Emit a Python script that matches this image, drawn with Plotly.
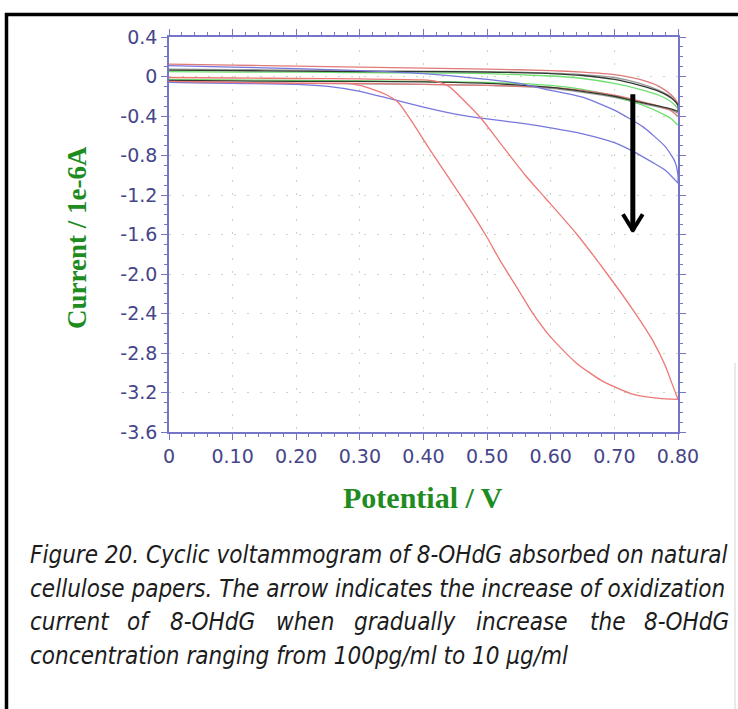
import plotly.graph_objects as go

# ---------------- data ----------------
# background loops (low concentrations) – common potential grid, both branches listed from 0 to 0.8 V
BG_X = [0, 0.1, 0.2, 0.3, 0.4, 0.5, 0.6, 0.65, 0.7, 0.74, 0.77, 0.79, 0.8]

red_bg_fwd = [-0.05, -0.06, -0.07, -0.07, -0.08, -0.09, -0.11, -0.14, -0.19, -0.25, -0.30, -0.35, -0.40]
red_bg_rev = [0.125, 0.115, 0.105, 0.095, 0.085, 0.075, 0.06, 0.045, 0.02, -0.03, -0.10, -0.19, -0.28]

black_fwd = [-0.04, -0.045, -0.05, -0.05, -0.055, -0.07, -0.11, -0.15, -0.20, -0.26, -0.30, -0.33, -0.35]
black_rev = [0.065, 0.06, 0.055, 0.05, 0.05, 0.045, 0.03, 0.01, -0.03, -0.09, -0.15, -0.22, -0.29]

green_fwd = [-0.03, -0.035, -0.04, -0.045, -0.05, -0.06, -0.09, -0.13, -0.20, -0.28, -0.36, -0.43, -0.49]
green_rev = [0.05, 0.045, 0.045, 0.04, 0.035, 0.03, 0.005, -0.02, -0.07, -0.13, -0.19, -0.26, -0.33]

grey_fwd = [-0.06, -0.065, -0.07, -0.075, -0.08, -0.09, -0.12, -0.16, -0.21, -0.27, -0.31, -0.34, -0.37]
grey_rev = [0.075, 0.07, 0.065, 0.06, 0.055, 0.05, 0.035, 0.02, -0.01, -0.07, -0.14, -0.21, -0.30]

# blue loop (intermediate concentration)
blue_fwd_x = [0, 0.1, 0.2, 0.25, 0.3, 0.35, 0.4, 0.45, 0.5, 0.55, 0.6, 0.65, 0.7, 0.73, 0.76, 0.78, 0.8]
blue_fwd_y = [-0.06, -0.07, -0.08, -0.10, -0.15, -0.23, -0.31, -0.38, -0.43, -0.47, -0.52, -0.58, -0.67, -0.76, -0.87, -0.95, -1.08]
blue_rev_x = [0.8, 0.8, 0.795, 0.78, 0.76, 0.745, 0.7, 0.65, 0.6, 0.55, 0.5, 0.4, 0.3, 0.2, 0.1, 0]
blue_rev_y = [-1.08, -1.0, -0.86, -0.71, -0.59, -0.51, -0.34, -0.21, -0.14, -0.07, -0.03, 0.03, 0.06, 0.08, 0.095, 0.11]

# red loop (highest concentration)
red_fwd_x = [0, 0.1, 0.2, 0.25, 0.28, 0.30, 0.32, 0.34, 0.36, 0.38, 0.41, 0.44, 0.47, 0.50, 0.52, 0.55, 0.57, 0.60, 0.64, 0.68, 0.73, 0.77, 0.80]
red_fwd_y = [-0.05, -0.06, -0.07, -0.07, -0.07, -0.09, -0.13, -0.18, -0.26, -0.44, -0.74, -1.03, -1.32, -1.63, -1.86, -2.17, -2.38, -2.64, -2.90, -3.08, -3.22, -3.26, -3.27]
red_rev_x = [0.80, 0.79, 0.78, 0.76, 0.73, 0.69, 0.64, 0.59, 0.56, 0.52, 0.49, 0.46, 0.44, 0.42, 0.40, 0.3, 0.2, 0.1, 0]
red_rev_y = [-3.27, -3.10, -2.93, -2.67, -2.37, -2.01, -1.59, -1.22, -1.00, -0.67, -0.42, -0.22, -0.10, -0.05, -0.035, -0.025, -0.02, -0.015, -0.01]

X_TICKS = [0, 0.1, 0.2, 0.3, 0.4, 0.5, 0.6, 0.7, 0.8]
X_LABELS = ["0", "0.10", "0.20", "0.30", "0.40", "0.50", "0.60", "0.70", "0.80"]
Y_TICKS = [0.4, 0, -0.4, -0.8, -1.2, -1.6, -2.0, -2.4, -2.8, -3.2, -3.6]
Y_LABELS = ["0.4", "0", "-0.4", "-0.8", "-1.2", "-1.6", "-2.0", "-2.4", "-2.8", "-3.2", "-3.6"]

ARROW_X = 0.729
ARROW_TOP = -0.18
ARROW_TIP = -1.57

CAPTION = [
    "Figure 20. Cyclic voltammogram of 8-OHdG absorbed on natural",
    "cellulose papers. The arrow indicates the increase of oxidization",
    ["current", "of", "8-OHdG", "when", "gradually", "increase", "the", "8-OHdG"],
    "concentration ranging from 100pg/ml to 10 \u00b5g/ml",
]

# ---------------- figure ----------------
W, H = 738, 709
ML, MR, MT, MB = 169, 60, 37, 277
PW, PH = W - ML - MR, H - MT - MB


def px_x(px):
    return (px - ML) / PW


def px_y(py):
    return (H - MB - py) / PH


fig = go.Figure()

loops = [
    (BG_X, grey_fwd, BG_X[::-1], grey_rev[::-1], "#9a9a9a"),
    (BG_X, green_fwd, BG_X[::-1], green_rev[::-1], "#6fe06f"),
    (BG_X, red_bg_fwd, BG_X[::-1], red_bg_rev[::-1], "#e07a78"),
    (BG_X, black_fwd, BG_X[::-1], black_rev[::-1], "#303a30"),
    (blue_fwd_x, blue_fwd_y, blue_rev_x, blue_rev_y, "#7777dd"),
    (red_fwd_x, red_fwd_y, red_rev_x, red_rev_y, "#ee7777"),
]
for fx, fy, rx, ry, col in loops:
    fig.add_trace(go.Scatter(
        x=list(fx) + list(rx), y=list(fy) + list(ry), mode="lines",
        line=dict(color=col, width=1.3, shape="spline", smoothing=0.6),
        hoverinfo="skip", showlegend=False))

AX = "#7474c8"
TICKFONT = dict(family="DejaVu Sans", size=19, color="#45458a")
common = dict(showline=True, linecolor=AX, linewidth=1.5, mirror="allticks",
              ticks="outside", ticklen=6, tickwidth=1.2, tickcolor=AX,
              showgrid=True, gridcolor="#c6d9bd", gridwidth=1.2, griddash="2px,11px",
              zeroline=False, tickfont=TICKFONT,
              minor=dict(ticks="outside", ticklen=3.5, tickwidth=1, tickcolor=AX, showgrid=False))

fig.update_xaxes(range=[0, 0.8], tickvals=X_TICKS, ticktext=X_LABELS, **common)
fig.update_xaxes(minor_dtick=0.02)
fig.update_yaxes(range=[-3.6, 0.4], tickvals=Y_TICKS, ticktext=Y_LABELS, **common)
fig.update_yaxes(minor_dtick=0.1)

# arrow (shaft + open chevron head)
head_dx = 0.0155
head_dy = 0.175
fig.add_shape(type="line", x0=ARROW_X, x1=ARROW_X, y0=ARROW_TOP, y1=ARROW_TIP + 0.02,
              line=dict(color="black", width=5))
fig.add_shape(type="line", x0=ARROW_X - head_dx, x1=ARROW_X + 0.0012, y0=ARROW_TIP + head_dy, y1=ARROW_TIP,
              line=dict(color="black", width=4))
fig.add_shape(type="line", x0=ARROW_X + head_dx, x1=ARROW_X - 0.0012, y0=ARROW_TIP + head_dy, y1=ARROW_TIP,
              line=dict(color="black", width=4))

# frame of the scanned figure
fig.add_shape(type="line", xref="paper", yref="paper", x0=px_x(5), x1=px_x(740), y0=px_y(14.5), y1=px_y(14.5),
              line=dict(color="black", width=3.5))
fig.add_shape(type="line", xref="paper", yref="paper", x0=px_x(6.5), x1=px_x(6.5), y0=px_y(13), y1=px_y(712),
              line=dict(color="black", width=3.5))
fig.add_shape(type="line", xref="paper", yref="paper", x0=px_x(735), x1=px_x(735), y0=px_y(363), y1=px_y(712),
              line=dict(color="#e2e2e2", width=1.5))

# axis titles
TITLE_FONT = dict(family="Liberation Serif", size=27, color="#1e8c1e")
fig.add_annotation(text="<b>Current / 1e-6A</b>", xref="paper", yref="paper",
                   x=px_x(77), y=px_y(238), textangle=-90, showarrow=False, font=TITLE_FONT,
                   xanchor="center", yanchor="middle")
fig.add_annotation(text="<b>Potential / V</b>", xref="paper", yref="paper",
                   x=px_x(423), y=px_y(497), showarrow=False, font=dict(TITLE_FONT, size=30),
                   xanchor="center", yanchor="middle")

# caption
CAP_FONT = dict(family="DejaVu Sans Condensed", size=24, color="#1c1c1c")
cap_y = [555, 589, 622, 656]
word_centers = [None, 139, 212, 305, 405, 522, 607, None]
for i, line in enumerate(CAPTION):
    if isinstance(line, list):
        for j, word in enumerate(line):
            if j == 0:
                kw = dict(x=px_x(28), xanchor="left")
            elif j == len(line) - 1:
                kw = dict(x=px_x(731), xanchor="right")
            else:
                kw = dict(x=px_x(word_centers[j]), xanchor="center")
            fig.add_annotation(text="<i>" + word + "</i>", xref="paper", yref="paper",
                               y=px_y(cap_y[i]), yanchor="middle", showarrow=False,
                               font=CAP_FONT, **kw)
    else:
        fig.add_annotation(text="<i>" + line + "</i>", xref="paper", yref="paper",
                           x=px_x(28), y=px_y(cap_y[i]), xanchor="left", yanchor="middle",
                           showarrow=False, font=CAP_FONT)

fig.update_layout(width=W, height=H, margin=dict(l=ML, r=MR, t=MT, b=MB),
                  paper_bgcolor="white", plot_bgcolor="white", showlegend=False)

fig.write_html("out.html", config={"displayModeBar": False},
               post_script="document.body.style.margin='0';")
